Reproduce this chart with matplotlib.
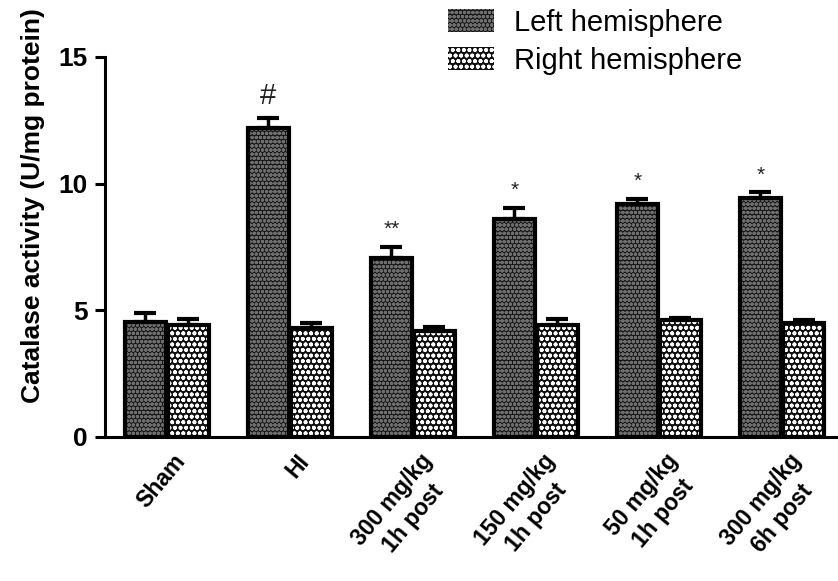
import matplotlib
matplotlib.use("Agg")
import matplotlib.pyplot as plt
import matplotlib.patches as patches
import numpy as np

groups = ["Sham", "HI", "300 mg/kg\n1h post", "150 mg/kg\n1h post",
          "50 mg/kg\n1h post", "300 mg/kg\n6h post"]
left_mean = [4.55, 12.2, 7.05, 8.6, 9.2, 9.45]
left_err = [0.35, 0.4, 0.45, 0.45, 0.2, 0.2]
right_mean = [4.4, 4.3, 4.2, 4.4, 4.6, 4.5]
right_err = [0.25, 0.2, 0.15, 0.25, 0.1, 0.1]
marks = ["", "#", "**", "*", "*", "*"]

plt.rcParams["font.family"] = ["Liberation Sans", "DejaVu Sans"]
plt.rcParams["hatch.linewidth"] = 1.2

fig = plt.figure(figsize=(8.38, 5.81), dpi=100)
ax = fig.add_axes([0.125, 0.248, 0.875, 0.654])

x = np.arange(len(groups))
w = 0.33
off = 0.175


def draw_bars(xs, vals, errs, face, hatch_col, hatch):
    # fill with a coloured hatch, then a heavy black outline on top
    ax.bar(xs, vals, w, color=face, edgecolor=hatch_col, hatch=hatch,
           linewidth=0, zorder=2)
    ax.bar(xs, vals, w, fill=False, edgecolor="black", linewidth=3, zorder=3)
    ax.errorbar(xs, vals, yerr=[np.zeros(len(errs)), errs], fmt="none",
                ecolor="black", elinewidth=2.5, capsize=8, capthick=3, zorder=4)


draw_bars(x - off, left_mean, left_err, "#141414", "#6e6e6e", "oooo")
draw_bars(x + off, right_mean, right_err, "#111111", "white", "ooo")

for xi, v, e, m in zip(x - off, left_mean, left_err, marks):
    if m:
        size = 21 if m == "#" else 15
        ax.text(xi, v + e + 0.3, m, ha="center", va="bottom",
                fontsize=size, color="#222222")

ax.set_xlim(-0.504, 5.455)
ax.set_ylim(0, 15)
ax.set_yticks([0, 5, 10, 15])
ax.set_xticks(x + 0.05)
ax.set_xticklabels(groups, rotation=50, ha="right", rotation_mode="anchor",
                   fontsize=16.5, fontweight="bold", linespacing=1.3,
                   multialignment="center")
ax.tick_params(axis="x", length=0, pad=9)
ax.tick_params(axis="y", length=7, width=2.2, labelsize=19, pad=5)
for lab in ax.get_yticklabels():
    lab.set_fontweight("bold")

for s in ["top", "right"]:
    ax.spines[s].set_visible(False)
ax.spines["left"].set_linewidth(2.2)
ax.spines["bottom"].set_linewidth(2.2)

ax.set_ylabel("Catalase activity (U/mg protein)", fontsize=19,
              fontweight="bold")
ax.yaxis.set_label_coords(-0.082, 0.61)

handles = [
    patches.Rectangle((0, 0), 1, 1, facecolor="#141414", edgecolor="#6e6e6e",
                      hatch="oooo", linewidth=0),
    patches.Rectangle((0, 0), 1, 1, facecolor="#111111", edgecolor="white",
                      hatch="ooo", linewidth=0),
]
fig.legend(handles, ["Left hemisphere", "Right hemisphere"],
           loc="upper left", bbox_to_anchor=(0.535, 0.985), frameon=False,
           fontsize=21, handlelength=1.55, handleheight=0.85,
           labelspacing=0.35, handletextpad=0.7, borderpad=0,
           borderaxespad=0)

fig.savefig("out.png", dpi=100)
